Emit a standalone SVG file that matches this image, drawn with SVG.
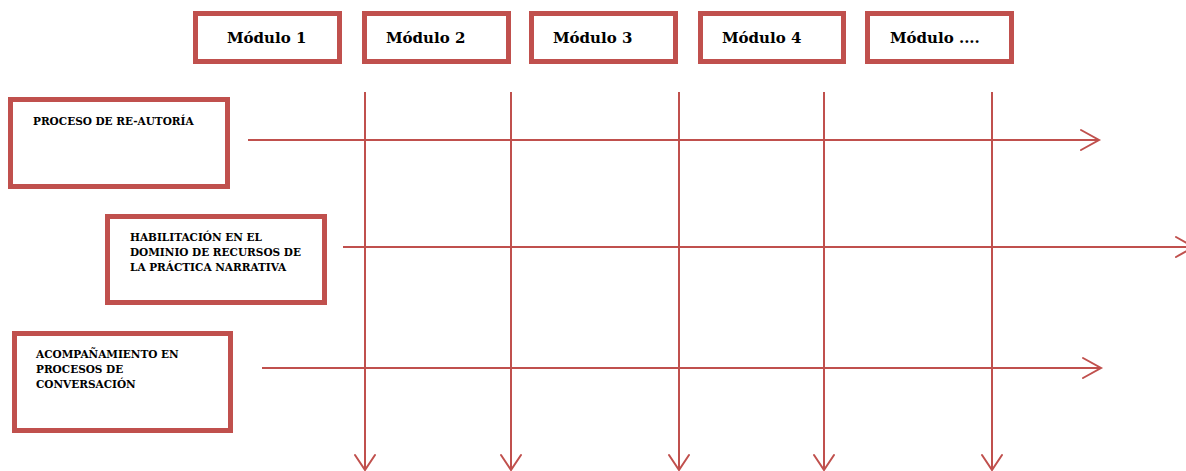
<svg xmlns="http://www.w3.org/2000/svg" width="1186" height="471" viewBox="0 0 1186 471">
<style>
.box{fill:#fff;stroke:#C0504D;stroke-width:5}
.mod{font-family:"DejaVu Serif","Liberation Serif",serif;font-weight:bold;font-size:15px;fill:#000}
.lbl{font-family:"DejaVu Serif","Liberation Serif",serif;font-weight:bold;font-size:10.5px;fill:#000}
.ln{stroke:#C0504D;stroke-width:2;fill:none}
.hd{stroke:#C0504D;stroke-width:2;fill:none;stroke-linecap:round;stroke-linejoin:miter}
</style>
<rect width="1186" height="471" fill="#fff"/>
<g id="modulo1"><rect class="box" x="195.5" y="13.5" width="144" height="48"/><text class="mod" x="227" y="43">Módulo 1</text></g>
<g id="modulo2"><rect class="box" x="364.5" y="13.5" width="144" height="48"/><text class="mod" x="386" y="43">Módulo 2</text></g>
<g id="modulo3"><rect class="box" x="531.5" y="13.5" width="144" height="48"/><text class="mod" x="553" y="43">Módulo 3</text></g>
<g id="modulo4"><rect class="box" x="700.5" y="13.5" width="143" height="48"/><text class="mod" x="722" y="43">Módulo 4</text></g>
<g id="modulo5"><rect class="box" x="867.5" y="13.5" width="144" height="48"/><text class="mod" x="890" y="43">Módulo ....</text></g>
<g id="reautoria"><rect class="box" x="10.5" y="99.5" width="217" height="87"/><text class="lbl" x="33" y="125">PROCESO DE RE-AUTORÍA</text></g>
<g id="habilitacion"><rect class="box" x="107.5" y="216.5" width="217" height="86"/><text class="lbl" x="130" y="241">HABILITACIÓN EN EL</text><text class="lbl" x="130" y="256">DOMINIO DE RECURSOS DE</text><text class="lbl" x="130" y="271">LA PRÁCTICA NARRATIVA</text></g>
<g id="acompanamiento"><rect class="box" x="14.5" y="333.5" width="216" height="97"/><text class="lbl" x="36" y="358">ACOMPAÑAMIENTO EN</text><text class="lbl" x="36" y="373">PROCESOS DE</text><text class="lbl" x="36" y="388">CONVERSACIÓN</text></g>
<g id="connectors">
<line class="ln" x1="248" y1="140" x2="1098" y2="140"/><polyline class="hd" points="1081,130 1099,140 1081,150"/>
<line class="ln" x1="343" y1="247" x2="1188" y2="247"/><polyline class="hd" points="1176,237 1194,247 1176,257"/>
<line class="ln" x1="262" y1="368" x2="1100" y2="368"/><polyline class="hd" points="1083,358 1101,368 1083,378"/>
<line class="ln" x1="365" y1="92" x2="365" y2="469"/><polyline class="hd" points="355,455 365,470 375,455"/>
<line class="ln" x1="511" y1="92" x2="511" y2="469"/><polyline class="hd" points="501,455 511,470 521,455"/>
<line class="ln" x1="679" y1="92" x2="679" y2="469"/><polyline class="hd" points="669,455 679,470 689,455"/>
<line class="ln" x1="824" y1="92" x2="824" y2="469"/><polyline class="hd" points="814,455 824,470 834,455"/>
<line class="ln" x1="992" y1="92" x2="992" y2="469"/><polyline class="hd" points="982,455 992,470 1002,455"/>
</g>
</svg>
